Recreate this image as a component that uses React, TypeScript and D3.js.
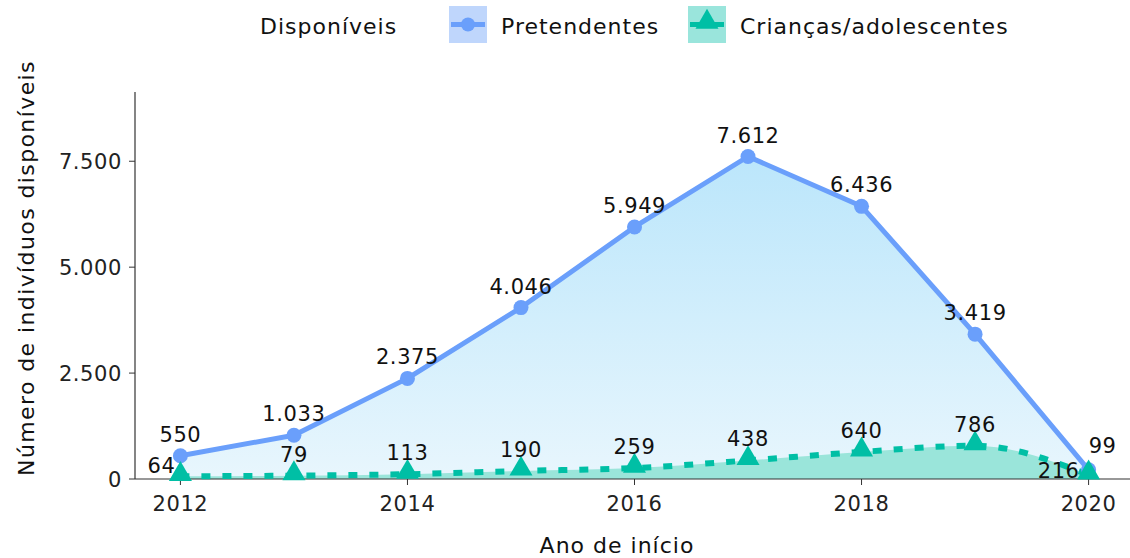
import React from "react";
import * as d3 from "d3";

const years = [2012, 2013, 2014, 2015, 2016, 2017, 2018, 2019, 2020];
const pretendentes = [550, 1033, 2375, 4046, 5949, 7612, 6436, 3419, 216];
const criancas = [64, 79, 113, 190, 259, 438, 640, 786, 99];
const yTicks = [0, 2500, 5000, 7500];
const xTicks = [2012, 2014, 2016, 2018, 2020];
const legendTitle = "Disponíveis";
const seriesNames = ["Pretendentes", "Crianças/adolescentes"];
const xTitle = "Ano de início";
const yTitle = "Número de indivíduos disponíveis";

const W = 1130;
const H = 558;
const FONT = "'DejaVu Sans', sans-serif";
const BLUE = "#6a9ffb";
const GREEN = "#00bfa5";

const fmt = (v: number) => d3.format(",")(v).replace(/,/g, ".");

export default function App() {
  const x = d3.scaleLinear().domain([2011.6, 2020.4]).range([135, 1134]);
  const yMax = d3.max(pretendentes)! * 1.2;
  const y = d3.scaleLinear().domain([0, yMax]).range([479, 92]);

  const blueLine = d3.line<number>().x((_, i) => x(years[i])).y((d) => y(d));
  const blueArea = d3.area<number>().x((_, i) => x(years[i])).y0(y(0)).y1((d) => y(d));
  const greenLine = d3
    .line<number>()
    .curve(d3.curveMonotoneX)
    .x((_, i) => x(years[i]))
    .y((d) => y(d));
  const greenArea = d3
    .area<number>()
    .curve(d3.curveMonotoneX)
    .x((_, i) => x(years[i]))
    .y0(y(0))
    .y1((d) => y(d));

  const tri = d3.symbol().type(d3.symbolTriangle).size(230)()!;

  const labelFor = (series: number, i: number) => {
    const v = series === 0 ? pretendentes[i] : criancas[i];
    const other = series === 0 ? criancas[i] : pretendentes[i];
    const px = x(years[i]);
    const py = y(v);
    const close = Math.abs(y(v) - y(other)) < 30;
    if (close) {
      const isLast = i === years.length - 1;
      if (series === 1 && !isLast) {
        return { x: px - 5, y: py - 3, anchor: "end" as const, v };
      }
      if (series === 0 && isLast) {
        return { x: px - 9, y: py + 8, anchor: "end" as const, v };
      }
      if (isLast && series === 1) {
        return { x: px + 14, y: py - 22, anchor: "middle" as const, v };
      }
    }
    return { x: px, y: py - 14, anchor: "middle" as const, v };
  };

  const labels: { x: number; y: number; anchor: "end" | "middle"; v: number }[] = [];
  years.forEach((_, i) => {
    labels.push(labelFor(0, i));
    labels.push(labelFor(1, i));
  });

  return (
    <svg
      width={W}
      height={H}
      style={{ position: "absolute", left: 0, top: 0, background: "#fff" }}
      fontFamily={FONT}
    >
      <defs>
        <linearGradient id="blueGrad" gradientUnits="userSpaceOnUse"
          x1={0} x2={0} y1={y(d3.max(pretendentes)!)} y2={y(0)}>
          <stop offset="0" stopColor="#bbe6fb" />
          <stop offset="1" stopColor="#e8f6fd" />
        </linearGradient>
      </defs>

      {/* Legend */}
      <g fontSize={22} letterSpacing={1} fill="#111">
        <text x={260} y={34}>{legendTitle}</text>
        <text x={501} y={34}>{seriesNames[0]}</text>
        <text x={740} y={34}>{seriesNames[1]}</text>
      </g>
      <rect x={449} y={6} width={38} height={37} fill="#bfd6fc" />
      <line x1={451} x2={485} y1={24.5} y2={24.5} stroke={BLUE} strokeWidth={5} />
      <circle cx={468} cy={24.5} r={7} fill={BLUE} />
      <rect x={688} y={6} width={38} height={37} fill="#9ae5dc" />
      <line x1={690} x2={724} y1={24.5} y2={24.5} stroke={GREEN} strokeWidth={5} />
      <path d={tri} transform="translate(707,22)" fill={GREEN} />

      {/* Areas */}
      <path d={blueArea(pretendentes)!} fill="url(#blueGrad)" />
      <path d={greenArea(criancas)!} fill="#9ae5da" />

      {/* Axes */}
      <line x1={135} x2={135} y1={92} y2={479} stroke="#333" strokeWidth={1.2} />
      <line x1={135} x2={W} y1={479} y2={479} stroke="#333" strokeWidth={1.2} />
      {yTicks.map((t) => (
        <g key={t}>
          <line x1={129} x2={135} y1={y(t)} y2={y(t)} stroke="#333" />
          <text x={122} y={y(t)} dy="0.36em" textAnchor="end" fontSize={21} letterSpacing={0.6} fill="#222">
            {fmt(t)}
          </text>
        </g>
      ))}
      {xTicks.map((t) => (
        <g key={t}>
          <line x1={x(t)} x2={x(t)} y1={479} y2={485} stroke="#333" />
          <text x={x(t)} y={511} textAnchor="middle" fontSize={21} letterSpacing={0.6} fill="#222">
            {t}
          </text>
        </g>
      ))}
      <text x={617} y={553} textAnchor="middle" fontSize={22} letterSpacing={1} fill="#111">{xTitle}</text>
      <text
        transform={`translate(34,${268}) rotate(-90)`}
        textAnchor="middle"
        fontSize={22}
        letterSpacing={1.4}
        fill="#111"
      >
        {yTitle}
      </text>

      {/* Lines */}
      <path d={blueLine(pretendentes)!} fill="none" stroke={BLUE} strokeWidth={5} strokeLinejoin="round" />
      <path d={greenLine(criancas)!} fill="none" stroke={GREEN} strokeWidth={6} strokeDasharray="9 12" />

      {/* Points */}
      {pretendentes.map((v, i) => (
        <circle key={"b" + i} cx={x(years[i])} cy={y(v)} r={7.5} fill={BLUE} />
      ))}
      {criancas.map((v, i) => (
        <path key={"g" + i} d={tri} transform={`translate(${x(years[i])},${y(v) - 2})`} fill={GREEN} />
      ))}

      {/* Labels */}
      {labels.map((l, k) => (
        <text key={k} x={l.x} y={l.y} textAnchor={l.anchor} fontSize={21} letterSpacing={0.6} fill="#111">
          {fmt(l.v)}
        </text>
      ))}
    </svg>
  );
}
